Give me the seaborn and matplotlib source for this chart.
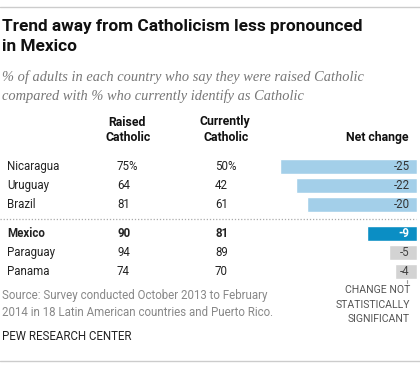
import matplotlib
matplotlib.use("Agg")
import matplotlib.pyplot as plt
import seaborn as sns
import pandas as pd
from matplotlib.lines import Line2D

sns.set_theme(style="white")
plt.rcParams['font.family'] = ['Roboto', 'DejaVu Sans']

countries_top = ["Nicaragua", "Uruguay", "Brazil"]
raised_top = ["75%", "64", "81"]
current_top = ["50%", "42", "61"]
net_top = [-25, -22, -20]

countries_bot = ["Mexico", "Paraguay", "Panama"]
raised_bot = ["90", "94", "74"]
current_bot = ["81", "89", "70"]
net_bot = [-9, -5, -4]

colors_top = ["#a3cfe9", "#a3cfe9", "#a3cfe9"]
colors_bot = ["#0b8ec4", "#d3d3d3", "#d3d3d3"]

title = ["Trend away from Catholicism less pronounced", "in Mexico"]
subtitle = ["% of adults in each country who say they were raised Catholic",
            "compared with % who currently identify as Catholic"]
source = ["Source: Survey conducted October 2013 to February",
          "2014 in 18 Latin American countries and Puerto Rico."]
note = ["CHANGE NOT", "STATISTICALLY", "SIGNIFICANT"]

W, H = 420, 367
fig = plt.figure(figsize=(W / 100, H / 100), dpi=100)
fig.patch.set_facecolor("white")
bg = fig.add_axes([0, 0, 1, 1])
bg.set_xlim(0, W)
bg.set_ylim(H, 0)
bg.axis("off")

# rules
bg.add_line(Line2D([0, W], [7, 7], color="#cccccc", lw=1))
bg.add_line(Line2D([0, W], [361, 361], color="#cccccc", lw=1))
bg.add_line(Line2D([0, 416], [219, 219], color="#aaaaaa", lw=0.9, ls=(0, (1, 1.5))))

for i, s in enumerate(title):
    bg.text(2, 31 + 20 * i, s, fontsize=12.4, fontweight="bold", color="#111111",
            va="baseline", ha="left")
for i, s in enumerate(subtitle):
    bg.text(2, 77 + 19 * i, s, fontsize=10.4, style="italic", color="#777777",
            family=["Liberation Serif"], va="center", ha="left")

hfs = 8.8
bg.text(127, 122, "Raised", fontsize=hfs, fontweight="bold", ha="center", va="center", color="#111111")
bg.text(128, 137.5, "Catholic", fontsize=hfs, fontweight="bold", ha="center", va="center", color="#111111")
bg.text(225, 122, "Currently", fontsize=hfs, fontweight="bold", ha="center", va="center", color="#111111")
bg.text(226.5, 137.5, "Catholic", fontsize=hfs, fontweight="bold", ha="center", va="center", color="#111111")
bg.text(409, 137.5, "Net change", fontsize=hfs, fontweight="bold", ha="right", va="center", color="#111111")

fs = 8.3

def rows(countries, raised, current, y0, bold_first=False):
    for i, (c, r, cu) in enumerate(zip(countries, raised, current)):
        y = y0 + 19 * i
        fw = "bold" if (bold_first and i == 0) else "normal"
        bg.text(7, y, c, fontsize=fs, fontweight=fw, ha="left", va="center", color="#222222")
        bg.text(117, y, r, fontsize=fs, fontweight=fw, ha="left", va="center", color="#222222")
        bg.text(215, y, cu, fontsize=fs, fontweight=fw, ha="left", va="center", color="#222222")

rows(countries_top, raised_top, current_top, 166.5)
rows(countries_bot, raised_bot, current_bot, 233.5, bold_first=True)

def bars(countries, net, colors, top_px, label_colors, bold_first=False):
    ax = fig.add_axes([280 / W, 1 - (top_px + 57) / H, (416.5 - 280) / W, 57 / H])
    df = pd.DataFrame({"country": countries, "net": net})
    sns.barplot(data=df, x="net", y="country", hue="country",
                palette=dict(zip(countries, colors)), orient="h",
                width=15 / 19, legend=False, ax=ax, saturation=1)
    ax.set_xlim(-25, 0)
    ax.set_ylim(2.5, -0.5)
    ax.axis("off")
    for i, v in enumerate(net):
        fw = "bold" if (bold_first and i == 0) else "normal"
        ax.annotate(str(v), xy=(0, i), xytext=(-7, 0), textcoords="offset pixels",
                    ha="right", va="center", fontsize=fs, color=label_colors[i], fontweight=fw)
    return ax

bars(countries_top, net_top, colors_top, 157, ["#333333"] * 3)
bars(countries_bot, net_bot, colors_bot, 224, ["white", "#444444", "#444444"], bold_first=True)

# connector and note
bg.add_line(Line2D([407, 407], [278.5, 283], color="#999999", lw=0.8))
for i, s in enumerate(note):
    bg.text(410, 290 + 14.5 * i, s, fontsize=7.6, ha="right", va="center", color="#555555")

for i, s in enumerate(source):
    bg.text(2, 295 + 17.5 * i, s, fontsize=8.3, ha="left", va="center", color="#888888")

bg.text(2, 336, "PEW RESEARCH CENTER", fontsize=8.3, ha="left", va="center", color="#222222")

fig.savefig("out.png", dpi=100, facecolor="white")
